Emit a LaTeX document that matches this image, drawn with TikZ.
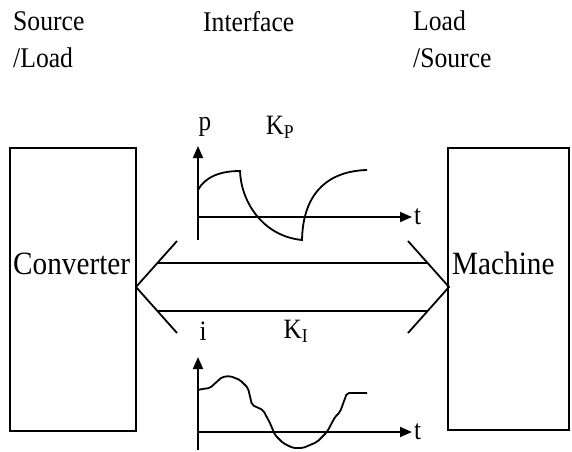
\documentclass[tikz,border=0pt]{standalone}
\usepackage{fontspec}
\setmainfont[FakeStretch=0.9]{Liberation Serif}
\usetikzlibrary{arrows.meta, positioning, calc}

\begin{document}
\begin{tikzpicture}[
    x=1pt, y=1pt,
    >={Triangle[length=12pt, width=10pt]},
    block/.style={draw, line width=2pt, inner sep=0pt},
    head/.style={align=left, inner sep=0pt, anchor=north west,
                 font=\fontsize{28.5}{37}\selectfont},
    blocktxt/.style={inner sep=0pt, anchor=base west,
                 font=\fontsize{32.5}{36}\selectfont},
    sym/.style={inner sep=0pt, font=\fontsize{28}{32}\selectfont},
    axis/.style={->, line width=1.8pt},
    curve/.style={line width=1.8pt},
    edge/.style={line width=1.8pt}
  ]
  \useasboundingbox (0,0) rectangle (572,451);

  \node[head] (src) at (13,440) {Source\\/Load};
  \node[head] (intf) at (203,440) {Interface};
  \node[head] (load) at (413,440) {Load\\/Source};

  \node[block, minimum width=126pt, minimum height=283pt] (conv) at (73,161.5) {};
  \node[block, minimum width=121pt, minimum height=282pt] (mach) at (508.5,162) {};
  \node[blocktxt] (convtxt) at (13,177) {Converter};
  \node[blocktxt] (machtxt) at (452,177) {Machine};

  % upper plot
  \coordinate (po) at (198,234);
  \draw[axis] (198,211) -- (198,305);
  \draw[axis] (po) -- (412,234);
  \node[sym, anchor=west] (pt) at (414,234) {t};
  \node[sym] (plab) at (205,324) {p};
  \node[sym] (kp) at (280,324) {K\textsubscript{P}};
  \draw[curve] (198,261) .. controls (205,274) and (220,280) .. (240,280)
    .. controls (241,250) and (262,215) .. (302,211)
    .. controls (303,260) and (330,280) .. (367,281);

  % double arrow
  \coordinate (lt) at (136,164);
  \coordinate (rt) at (449,164);
  \coordinate (ul) at (177,210);
  \coordinate (ll) at (177,118);
  \coordinate (ur) at (408,210);
  \coordinate (lr) at (408,118);
  \draw[edge] (ul) -- (lt) -- (ll);
  \draw[edge] (ur) -- (rt) -- (lr);
  \draw[edge] ($(lt)!0.52!(ul)$) -- ($(rt)!0.52!(ur)$);
  \draw[edge] ($(lt)!0.52!(ll)$) -- ($(rt)!0.52!(lr)$);

  % lower plot
  \coordinate (io) at (198,19);
  \draw[axis] (198,1) -- (198,94);
  \draw[axis] (io) -- (412,19);
  \node[sym, anchor=west] (it) at (414,19) {t};
  \node[sym] (ilab) at (203,120) {i};
  \node[sym] (ki) at (296,120) {K\textsubscript{I}};
  \draw[curve, rounded corners=2pt] (198,61) -- (202,62) -- (210,63) -- (222,74)
    -- (230,75) -- (240,71) -- (248,63) -- (252,46) -- (263,41) -- (270,28)
    -- (275,16) -- (283,8) -- (293,3) -- (303,3) -- (317,9) -- (327,19)
    -- (335,34) -- (340,39) -- (347,58) -- (367,58);
\end{tikzpicture}
\end{document}
